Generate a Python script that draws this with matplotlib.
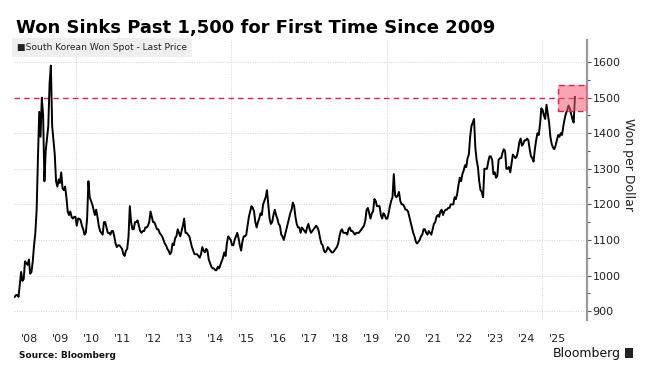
import numpy as np
import matplotlib.pyplot as plt
from matplotlib.patches import Rectangle

# USD/KRW spot, two readings per month (first half, second half of month)
won_2008 = [940, 945, 945, 940, 975, 1010, 985, 990, 1040, 1035, 1030, 1045,
            1005, 1010, 1040, 1085, 1120, 1185, 1330, 1460, 1390, 1500, 1450, 1265]
won_2009 = [1350, 1385, 1420, 1540, 1590, 1420, 1380, 1340, 1265, 1250, 1270, 1260,
            1290, 1245, 1240, 1250, 1220, 1180, 1170, 1180, 1165, 1160, 1165, 1165]
won_2010 = [1140, 1160, 1160, 1155, 1140, 1130, 1115, 1120, 1160, 1265, 1220, 1210,
            1200, 1185, 1170, 1185, 1165, 1140, 1125, 1120, 1115, 1150, 1150, 1135]
won_2011 = [1120, 1120, 1115, 1125, 1125, 1110, 1090, 1080, 1085, 1085, 1080, 1075,
            1060, 1055, 1070, 1075, 1110, 1195, 1150, 1130, 1130, 1150, 1150, 1155]
won_2012 = [1140, 1125, 1120, 1125, 1125, 1135, 1135, 1140, 1150, 1180, 1165, 1150,
            1150, 1140, 1130, 1130, 1120, 1115, 1110, 1100, 1090, 1085, 1075, 1070]
won_2013 = [1060, 1065, 1090, 1085, 1105, 1110, 1130, 1120, 1110, 1125, 1140, 1160,
            1120, 1120, 1115, 1110, 1095, 1080, 1070, 1060, 1060, 1060, 1055, 1050]
won_2014 = [1060, 1080, 1070, 1065, 1075, 1070, 1045, 1035, 1025, 1020, 1020, 1015,
            1015, 1025, 1020, 1030, 1040, 1050, 1065, 1055, 1090, 1110, 1105, 1100]
won_2015 = [1085, 1085, 1100, 1110, 1120, 1105, 1085, 1070, 1095, 1110, 1110, 1115,
            1140, 1165, 1180, 1195, 1190, 1180, 1150, 1135, 1150, 1160, 1175, 1170]
won_2016 = [1200, 1210, 1220, 1240, 1200, 1160, 1145, 1150, 1170, 1185, 1170, 1160,
            1145, 1140, 1115, 1110, 1100, 1115, 1130, 1145, 1160, 1175, 1185, 1205]
won_2017 = [1195, 1165, 1145, 1135, 1135, 1120, 1135, 1130, 1125, 1120, 1135, 1145,
            1130, 1120, 1125, 1130, 1135, 1140, 1135, 1125, 1105, 1090, 1085, 1070]
won_2018 = [1065, 1070, 1080, 1075, 1070, 1065, 1065, 1070, 1075, 1080, 1090, 1110,
            1125, 1130, 1120, 1120, 1120, 1115, 1130, 1135, 1125, 1125, 1120, 1115]
won_2019 = [1120, 1120, 1120, 1125, 1130, 1135, 1140, 1155, 1185, 1190, 1175, 1160,
            1175, 1180, 1215, 1210, 1195, 1195, 1195, 1170, 1160, 1175, 1170, 1160]
won_2020 = [1160, 1175, 1195, 1210, 1220, 1285, 1225, 1220, 1225, 1235, 1210, 1200,
            1200, 1195, 1185, 1185, 1180, 1165, 1150, 1135, 1120, 1110, 1095, 1090]
won_2021 = [1095, 1100, 1110, 1115, 1130, 1130, 1120, 1115, 1125, 1120, 1115, 1130,
            1145, 1150, 1165, 1170, 1165, 1180, 1185, 1170, 1180, 1185, 1185, 1190]
won_2022 = [1190, 1200, 1200, 1200, 1220, 1215, 1230, 1255, 1275, 1265, 1285, 1295,
            1310, 1305, 1330, 1340, 1390, 1420, 1430, 1440, 1360, 1325, 1305, 1265]
won_2023 = [1240, 1235, 1220, 1300, 1300, 1300, 1320, 1335, 1335, 1325, 1285, 1290,
            1275, 1280, 1325, 1330, 1330, 1345, 1355, 1350, 1300, 1300, 1305, 1290]
won_2024 = [1315, 1340, 1335, 1330, 1335, 1350, 1375, 1385, 1365, 1370, 1380, 1380,
            1385, 1380, 1355, 1335, 1330, 1320, 1355, 1380, 1400, 1395, 1425, 1470]
won_2025 = [1465, 1450, 1440, 1480, 1455, 1430, 1390, 1370, 1360, 1355, 1365, 1380,
            1395, 1390, 1400, 1395, 1420, 1440, 1455, 1465, 1478, 1470, 1455, 1440]
won_2026 = [1430, 1502]

year_labels = ["'08", "'09", "'10", "'11", "'12", "'13", "'14", "'15", "'16",
               "'17", "'18", "'19", "'20", "'21", "'22", "'23", "'24", "'25"]
y_ticks = [900, 1000, 1100, 1200, 1300, 1400, 1500, 1600]


won = np.array(won_2008 + won_2009 + won_2010 + won_2011 + won_2012 + won_2013
               + won_2014 + won_2015 + won_2016 + won_2017 + won_2018 + won_2019
               + won_2020 + won_2021 + won_2022 + won_2023 + won_2024 + won_2025
               + won_2026, dtype=float)
t = 2008 + (np.arange(len(won)) + 0.5) / 24

fig = plt.figure(figsize=(6.45, 3.75), dpi=100)
ax = fig.add_axes([14/645, 1 - 320/375, (587 - 14)/645, 280/375])

ax.set_xlim(2008.0, 2026.45)
ax.set_ylim(875, 1662)

# grid
for v in y_ticks:
    if v != 1500:
        ax.axhline(v, color='#d2d2d2', lw=0.7, ls=(0, (1, 1.5)), zorder=1)
for yr in [2010, 2015, 2020, 2025]:
    ax.axvline(yr, color='#d2d2d2', lw=0.7, ls=(0, (1, 1.5)), zorder=1)

ax.axhline(1500, color='#e0204a', lw=1.0, ls=(0, (4, 3)), zorder=2)

ax.plot(t, won, color='black', lw=1.4, zorder=3)

# highlight box
ax.add_patch(Rectangle((2025.51, 1462), 2026.45 - 2025.51, 1536 - 1462,
                       facecolor='#f25c75', alpha=0.55, edgecolor='none', zorder=4))
ax.add_patch(Rectangle((2025.51, 1462), 2026.45 - 2025.51, 1536 - 1462,
                       facecolor='none', edgecolor='#e0204a', lw=1.0,
                       ls=(0, (4, 3)), zorder=5))

# axes styling
for s in ['left', 'top', 'bottom']:
    ax.spines[s].set_visible(False)
ax.spines['right'].set_color('#9a9a9a')
ax.spines['right'].set_linewidth(1.6)

ax.yaxis.tick_right()
ax.set_yticks(y_ticks)
ax.set_yticks(np.arange(950, 1650, 100), minor=True)
ax.tick_params(axis='y', which='both', length=3, width=0.8, color='#555555',
               labelsize=8, labelcolor='#222222', pad=1)
ax.tick_params(axis='y', which='minor', length=2)

ax.set_xticks(np.arange(2008.5, 2026, 1))
ax.set_xticklabels(year_labels)
ax.tick_params(axis='x', length=0, labelsize=8, labelcolor='#222222', pad=10)

# legend box
ax.text(0.006, 0.99, u"\u25a0South Korean Won Spot - Last Price",
        transform=ax.transAxes, ha='left', va='top', fontsize=6.6,
        color='#222222', zorder=6,
        bbox=dict(boxstyle='square,pad=0.55', facecolor='#efefef', edgecolor='none'))

fig.text(16/645, 1 - 33/375, "Won Sinks Past 1,500 for First Time Since 2009",
         fontsize=13, fontweight='bold', ha='left', va='baseline', color='black')

fig.text(628/645, 1 - 165/375, "Won per Dollar", rotation=270, fontsize=9,
         ha='center', va='center', color='#222222')

fig.text(19/645, 1 - 355/375, "Source: Bloomberg", fontsize=6.5,
         fontweight='bold', ha='left', va='center', color='#111111')

fig.text(621/645, 1 - 353/375, "Bloomberg", fontsize=9, ha='right',
         va='center', color='#111111')
fig.patches.append(Rectangle((625/645, 1 - 358/375), 8/645, 10/375,
                             transform=fig.transFigure, facecolor='#222222',
                             edgecolor='none'))

fig.savefig('out.png', dpi=100)
